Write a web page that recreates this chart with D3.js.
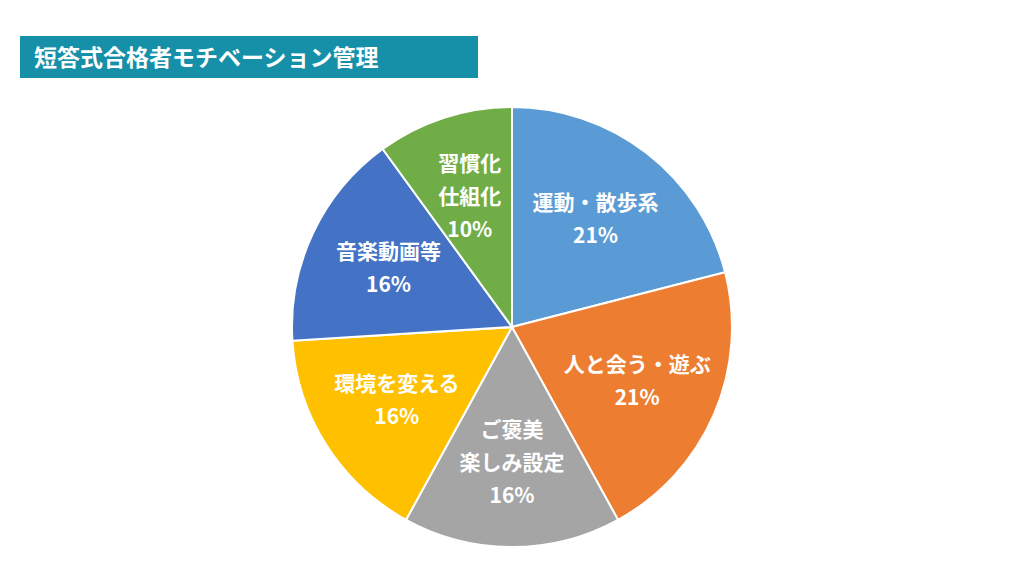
<!DOCTYPE html>
<html><head><meta charset="utf-8">
<script src="https://cdn.jsdelivr.net/npm/d3@7"></script>
<style>body{margin:0;background:#fff}</style>
</head><body>
<script>
var w = 1024, h = 576;
var categories = [["運動・散歩系"],["人と会う・遊ぶ"],["ご褒美","楽しみ設定"],["環境を変える"],["音楽動画等"],["習慣化","仕組化"]];
var values = [21,21,16,16,16,10];
var colors = ["#5B9BD5","#ED7D31","#A5A5A5","#FFC000","#4472C4","#70AD47"];
var title = "短答式合格者モチベーション管理";

var svg = d3.select("body").append("svg").attr("width",w).attr("height",h);
var font = "'Noto Sans CJK JP', sans-serif";

svg.append("rect").attr("x",20).attr("y",36).attr("width",458).attr("height",42).attr("fill","#1690A8");
svg.append("text").attr("x",34).attr("y",66).text(title)
  .attr("fill","#fff").attr("font-family",font).attr("font-weight","bold").attr("font-size",23);

var cx = 512, cy = 327, r = 220;
var pie = d3.pie().sort(null).value(function(d){return d;});
var arc = d3.arc().innerRadius(0).outerRadius(r);
var labelArc = d3.arc().innerRadius(r*0.62).outerRadius(r*0.62);
var g = svg.append("g").attr("transform","translate("+cx+","+cy+")");
var arcs = pie(values);

g.selectAll("path").data(arcs).enter().append("path")
  .attr("d",arc).attr("fill",function(d,i){return colors[i];})
  .attr("stroke","#fff").attr("stroke-width",2);

var lh = 33;
g.selectAll("text.lbl").data(arcs).enter().append("text")
  .attr("class","lbl")
  .attr("text-anchor","middle")
  .attr("fill","#fff").attr("font-family",font).attr("font-weight","bold").attr("font-size",21)
  .each(function(d,i){
    var c = labelArc.centroid(d);
    var lines = categories[i].concat([values[i]+"%"]);
    var y0 = c[1] - (lines.length-1)*lh/2 + 7;
    var t = d3.select(this);
    lines.forEach(function(s,j){
      t.append("tspan").attr("x",c[0]).attr("y",y0+j*lh).text(s);
    });
  });
</script>
</body></html>
